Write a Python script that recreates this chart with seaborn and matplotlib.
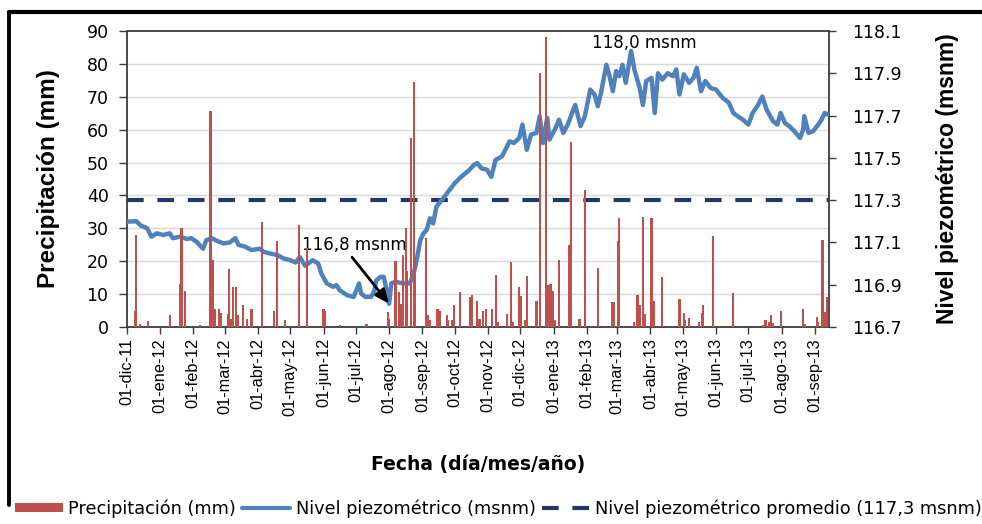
import matplotlib
matplotlib.use("Agg")
import matplotlib.pyplot as plt
from matplotlib.lines import Line2D
from matplotlib.patches import Patch
from matplotlib.ticker import FixedLocator
import pandas as pd
import seaborn as sns

# Daily precipitation events (mm); days not listed had no rain
rain_dates = [
    "2011-12-09", "2011-12-10", "2011-12-13", "2011-12-21", "2012-01-10", "2012-01-20",
    "2012-01-21", "2012-01-24", "2012-02-07", "2012-02-17", "2012-02-19", "2012-02-21",
    "2012-02-25", "2012-02-27", "2012-03-04", "2012-03-05", "2012-03-07", "2012-03-09",
    "2012-03-12", "2012-03-13", "2012-03-18", "2012-03-22", "2012-03-26", "2012-04-05",
    "2012-04-16", "2012-04-19", "2012-04-26", "2012-05-09", "2012-05-17", "2012-06-01",
    "2012-06-02", "2012-06-16", "2012-07-11", "2012-07-31", "2012-08-01", "2012-08-07",
    "2012-08-10", "2012-08-12", "2012-08-14", "2012-08-17", "2012-08-18", "2012-08-21",
    "2012-08-24", "2012-08-25", "2012-09-04", "2012-09-06", "2012-09-08", "2012-09-15",
    "2012-09-17", "2012-09-24", "2012-09-25", "2012-09-29", "2012-09-30", "2012-10-06",
    "2012-10-15", "2012-10-17", "2012-10-22", "2012-10-24", "2012-10-27", "2012-10-30",
    "2012-11-05", "2012-11-08", "2012-11-10", "2012-11-19", "2012-11-22", "2012-11-24",
    "2012-11-30", "2012-12-02", "2012-12-05", "2012-12-07", "2012-12-16", "2012-12-19",
    "2012-12-25", "2012-12-27", "2012-12-29", "2012-12-31", "2013-01-02", "2013-01-06",
    "2013-01-15", "2013-01-17", "2013-01-25", "2013-01-30", "2013-02-11", "2013-02-24",
    "2013-02-26", "2013-03-02", "2013-03-03", "2013-03-17", "2013-03-20", "2013-03-22",
    "2013-03-25", "2013-03-27", "2013-04-02", "2013-04-04", "2013-04-12", "2013-04-28",
    "2013-05-02", "2013-05-03", "2013-05-07", "2013-05-16", "2013-05-19", "2013-05-20",
    "2013-05-29", "2013-06-17", "2013-07-15", "2013-07-17", "2013-07-20", "2013-07-22",
    "2013-07-24", "2013-07-31", "2013-08-21", "2013-08-23", "2013-09-03", "2013-09-04",
    "2013-09-08", "2013-09-10", "2013-09-12",
]
rain_mm = [
    5, 28, 1, 1.7, 3.5, 13,
    30, 11, 0.5, 65.7, 20.5, 5.5,
    5.5, 4.4, 4, 17.5, 2.5, 12.2,
    12.2, 3.5, 6.6, 2.5, 5.6, 32,
    5, 26, 2, 31, 24, 5.6,
    5, 0.7, 0.8, 4.5, 2.5, 20,
    10.7, 7, 22, 30, 17, 57.4,
    74.6, 21, 27, 3.5, 2, 5.6,
    5, 3.5, 2, 2, 6.6, 10.7,
    9, 9.6, 8, 2.5, 5, 5.5,
    5.5, 15.7, 1.5, 4, 19.8, 1.5,
    12.2, 9.5, 2, 15.5, 7.8, 77.3,
    88.3, 12.7, 13.2, 11, 2, 20.3,
    25, 56.3, 2.5, 41.6, 18, 7.6,
    7.6, 26, 33.2, 1.5, 9.6, 6.6,
    33.5, 4, 33.2, 8, 15.2, 8.6,
    4.4, 2, 2.7, 1.5, 4.4, 6.6,
    27.7, 10.2, 0.5, 2, 1.5, 3.5,
    1.2, 5, 5.6, 1, 3, 1.5,
    26.4, 4.6, 9.1,
]

# Piezometric level (m above sea level)
level_dates = [
    "2011-12-01", "2011-12-10", "2011-12-14", "2011-12-20", "2011-12-24", "2011-12-29",
    "2012-01-04", "2012-01-10", "2012-01-13", "2012-01-20", "2012-01-26", "2012-01-30",
    "2012-02-04", "2012-02-10", "2012-02-13", "2012-02-18", "2012-02-23", "2012-02-29",
    "2012-03-06", "2012-03-11", "2012-03-14", "2012-03-20", "2012-03-26", "2012-04-03",
    "2012-04-06", "2012-04-12", "2012-04-19", "2012-04-25", "2012-05-01", "2012-05-06",
    "2012-05-10", "2012-05-15", "2012-05-22", "2012-05-27", "2012-05-30", "2012-06-04",
    "2012-06-10", "2012-06-13", "2012-06-16", "2012-06-23", "2012-06-29", "2012-07-04",
    "2012-07-06", "2012-07-10", "2012-07-15", "2012-07-18", "2012-07-20", "2012-07-24",
    "2012-07-27", "2012-07-29", "2012-08-01", "2012-08-03", "2012-08-07", "2012-08-14",
    "2012-08-20", "2012-08-23", "2012-08-26", "2012-08-30", "2012-09-02", "2012-09-05",
    "2012-09-08", "2012-09-11", "2012-09-14", "2012-09-19", "2012-09-25", "2012-10-01",
    "2012-10-07", "2012-10-14", "2012-10-19", "2012-10-22", "2012-10-26", "2012-10-31",
    "2012-11-04", "2012-11-08", "2012-11-14", "2012-11-21", "2012-11-25", "2012-11-30",
    "2012-12-03", "2012-12-07", "2012-12-11", "2012-12-16", "2012-12-19", "2012-12-22",
    "2012-12-26", "2012-12-28", "2013-01-02", "2013-01-06", "2013-01-10", "2013-01-14",
    "2013-01-21", "2013-01-26", "2013-01-30", "2013-02-04", "2013-02-08", "2013-02-11",
    "2013-02-14", "2013-02-19", "2013-02-22", "2013-02-25", "2013-02-28", "2013-03-03",
    "2013-03-06", "2013-03-09", "2013-03-14", "2013-03-17", "2013-03-22", "2013-03-25",
    "2013-03-28", "2013-04-02", "2013-04-05", "2013-04-08", "2013-04-12", "2013-04-17",
    "2013-04-22", "2013-04-25", "2013-04-28", "2013-05-02", "2013-05-07", "2013-05-11",
    "2013-05-14", "2013-05-18", "2013-05-22", "2013-05-27", "2013-06-01", "2013-06-07",
    "2013-06-13", "2013-06-17", "2013-06-21", "2013-06-26", "2013-07-01", "2013-07-05",
    "2013-07-10", "2013-07-14", "2013-07-18", "2013-07-24", "2013-07-28", "2013-07-31",
    "2013-08-04", "2013-08-08", "2013-08-13", "2013-08-18", "2013-08-21", "2013-08-22",
    "2013-08-26", "2013-08-30", "2013-09-04", "2013-09-07", "2013-09-10", "2013-09-13",
]
level_msnm = [
    117.198, 117.200, 117.180, 117.167, 117.127, 117.143,
    117.135, 117.143, 117.120, 117.127, 117.116, 117.120,
    117.103, 117.070, 117.110, 117.120, 117.107, 117.095,
    117.100, 117.120, 117.088, 117.080, 117.064, 117.070,
    117.056, 117.048, 117.040, 117.024, 117.016, 117.005,
    117.030, 116.990, 117.016, 117.000, 116.953, 116.906,
    116.890, 116.898, 116.874, 116.850, 116.842, 116.906,
    116.858, 116.842, 116.842, 116.866, 116.920, 116.937,
    116.937, 116.890, 116.810, 116.906, 116.914, 116.906,
    116.906, 116.937, 117.000, 117.111, 117.143, 117.160,
    117.214, 117.190, 117.270, 117.300, 117.340, 117.380,
    117.410, 117.440, 117.467, 117.475, 117.450, 117.444,
    117.410, 117.490, 117.507, 117.578, 117.570, 117.594,
    117.657, 117.538, 117.610, 117.618, 117.697, 117.570,
    117.689, 117.586, 117.633, 117.680, 117.618, 117.657,
    117.750, 117.650, 117.697, 117.823, 117.800, 117.744,
    117.807, 117.940, 117.886, 117.815, 117.910, 117.886,
    117.940, 117.855, 118.005, 117.918, 117.830, 117.750,
    117.863, 117.878, 117.712, 117.900, 117.870, 117.900,
    117.886, 117.918, 117.800, 117.895, 117.855, 117.878,
    117.926, 117.815, 117.863, 117.830, 117.823, 117.784,
    117.760, 117.712, 117.697, 117.680, 117.657, 117.712,
    117.750, 117.790, 117.728, 117.673, 117.657, 117.712,
    117.665, 117.650, 117.625, 117.594, 117.633, 117.697,
    117.618, 117.625, 117.657, 117.680, 117.712, 117.704,
]

level_mean = 117.3
level_min = ("2012-08-01", 116.81, "116,8 msnm")
level_max = ("2013-03-26", 118.045, "118,0 msnm")

precip_ticks = [0, 10, 20, 30, 40, 50, 60, 70, 80, 90]
level_ticks = [116.7, 116.9, 117.1, 117.3, 117.5, 117.7, 117.9, 118.1]
month_abbr = ["ene", "feb", "mar", "abr", "may", "jun",
              "jul", "ago", "sep", "oct", "nov", "dic"]
x_start, x_end = "2011-12-01", "2013-09-14"

RED = "#C0504D"
BLUE = "#4F81BD"
NAVY = "#1F3A66"
SPINE = "#3C3C3C"

sns.set_theme(style="ticks")
plt.rcParams["font.family"] = ["DejaVu Sans"]
plt.rcParams.update({"text.color": "black", "axes.labelcolor": "black",
                     "xtick.color": "black", "ytick.color": "black"})

fig = plt.figure(figsize=(9.82, 5.24), dpi=100)
# level axis first (right scale), precipitation twin drawn on top of it
ax = fig.add_axes([0.1290, 0.3760, 0.7152, 0.5649])
ax2 = ax.twinx()
ax.yaxis.tick_right()
ax.yaxis.set_label_position("right")
ax2.yaxis.tick_left()
ax2.yaxis.set_label_position("left")

ax.set_xlim(pd.Timestamp(x_start), pd.Timestamp(x_end))
ax.set_ylim(level_ticks[0], level_ticks[-1])
ax2.set_ylim(precip_ticks[0], precip_ticks[-1])

# horizontal grid at the precipitation ticks, kept underneath the level line
lv0, lv1 = level_ticks[0], level_ticks[-1]
p0, p1 = precip_ticks[0], precip_ticks[-1]
grid_pos = [lv0 + (p - p0) * (lv1 - lv0) / (p1 - p0) for p in precip_ticks[1:-1]]
ax.yaxis.set_minor_locator(FixedLocator(grid_pos))
ax.grid(which="minor", axis="y", color="#D9D9D9", linewidth=1.0)
ax.tick_params(axis="y", which="minor", length=0)

# mean level and measured level
ax.axhline(level_mean, color=NAVY, linewidth=3.0, linestyle=(0, (4, 3.3)), zorder=2)
lev = pd.DataFrame({"fecha": pd.to_datetime(level_dates), "nivel": level_msnm})
sns.lineplot(data=lev, x="fecha", y="nivel", ax=ax, color=BLUE, linewidth=3.2, zorder=3)

# precipitation bars
ax2.bar(pd.to_datetime(rain_dates), rain_mm, width=2.0, color=RED, linewidth=0, zorder=4)

# ticks
tick_dates = pd.date_range("2011-12-01", "2013-09-01", freq="MS")
tick_labels = [f"01-{month_abbr[d.month - 1]}-{d:%y}" for d in tick_dates]
ax.set_xticks(tick_dates)
ax.set_xticklabels(tick_labels, rotation=90, fontsize=11.8, fontfamily="Liberation Sans")
ax.set_yticks(level_ticks)
ax.set_yticklabels([f"{v:.1f}" for v in level_ticks], fontsize=12.5)
ax2.set_yticks(precip_ticks)
ax2.set_yticklabels([str(v) for v in precip_ticks], fontsize=12.5)

ax.tick_params(axis="x", which="major", length=5, width=1, color=SPINE, pad=3)
ax.tick_params(axis="y", which="major", length=5, width=1, color=SPINE, pad=12)
ax2.tick_params(axis="y", which="major", length=6, width=1, color=SPINE, pad=7)

for s in ax.spines.values():
    s.set_color(SPINE)
    s.set_linewidth(1.3)
for s in ax2.spines.values():
    s.set_visible(False)

# axis titles
ax.set_xlabel("Fecha (día/mes/año)", fontsize=13.5, fontweight="bold")
ax.xaxis.set_label_coords(0.5, -0.432)
ax2.set_ylabel("Precipitación (mm)", fontsize=17.5, fontweight="bold",
               fontfamily="Liberation Sans")
ax2.yaxis.set_label_coords(-0.095, 0.5)
ax.set_ylabel("Nivel piezométrico (msnm)", fontsize=16.5, fontweight="bold",
              fontfamily="Liberation Sans")
ax.yaxis.set_label_coords(1.152, 0.5)

# annotations for minimum and maximum level
ax.annotate(level_min[2], xy=(pd.Timestamp(level_min[0]), level_min[1]),
            xytext=(pd.Timestamp("2012-06-30"), 117.088), fontsize=12,
            ha="center", va="center", zorder=6,
            arrowprops=dict(arrowstyle="-|>,head_length=0.7,head_width=0.3",
                            color="black", lw=2, shrinkA=0, shrinkB=0,
                            relpos=(0.45, 0.0)))
ax.text(pd.Timestamp(level_max[0]), level_max[1], level_max[2], fontsize=12,
        ha="center", va="center", zorder=6)

# legend along the bottom
handles = [
    Patch(facecolor=RED, edgecolor="none"),
    Line2D([], [], color=BLUE, linewidth=3),
    Line2D([], [], color=NAVY, linewidth=3, linestyle=(0, (4, 3.3))),
]
labels = ["Precipitación (mm)", "Nivel piezométrico (msnm)",
          "Nivel piezométrico promedio (117,3 msnm)"]
fig.legend(handles, labels, loc="center left", bbox_to_anchor=(0.0153, 0.029),
           ncol=3, frameon=False, fontsize=12.8, handlelength=2.7, handleheight=0.45,
           handletextpad=0.3, columnspacing=0.35, borderpad=0, borderaxespad=0)

# outer chart border
fig.add_artist(Line2D([9 / 982, 1.0], [1 - 12 / 524] * 2, color="black",
                      linewidth=3, transform=fig.transFigure))
fig.add_artist(Line2D([9 / 982] * 2, [1 - 12 / 524, 1 - 505 / 524], color="black",
                      linewidth=2.8, transform=fig.transFigure))

fig.savefig("out.png", dpi=100)
